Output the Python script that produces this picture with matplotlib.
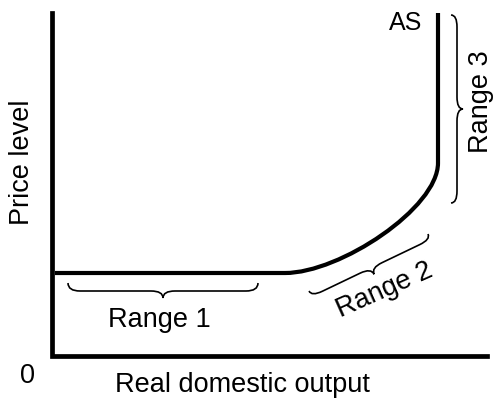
import matplotlib.pyplot as plt
from matplotlib.path import Path
from matplotlib.patches import PathPatch
import numpy as np

plt.rcParams['font.family'] = ['Liberation Sans', 'DejaVu Sans']

# diagram laid out in pixel units (y grows downward)
axis_x = [52, 52, 487]
axis_y = [13, 356, 356]

# AS curve: flat start, kink, two bezier handles, end of bend, top
as_x = [55, 285, 340, 438, 438, 438]
as_y = [273, 273, 273, 208, 163, 13]

# braces: start point, end point (normal is on the left of start->end)
brace_start = [(68, 283), (309, 291), (451, 203)]
brace_end = [(258, 283), (428, 234), (451, 15)]
brace_depth = [(8, 7), (6, 7), (6, 6)]

labels = ["Range 1", "Range 2", "Range 3"]
label_pos = [(159, 327), (385, 290), (481, 102)]
label_rot = [0, 24, 90]

fig = plt.figure(figsize=(5.01, 4.04), dpi=100)
ax = fig.add_axes([0, 0, 1, 1])
ax.set_xlim(0, 501)
ax.set_ylim(404, 0)
ax.axis('off')

# axes
ax.plot(axis_x, axis_y, color='black', lw=3.4, solid_joinstyle='miter')

# AS curve
codes = [Path.MOVETO, Path.LINETO, Path.CURVE4, Path.CURVE4, Path.CURVE4, Path.LINETO]
ax.add_patch(PathPatch(Path(list(zip(as_x, as_y)), codes),
                       fc='none', ec='black', lw=3.0))


def brace(p0, p1, h1, h2, r=12):
    p0 = np.array(p0, float)
    p1 = np.array(p1, float)
    L = np.linalg.norm(p1 - p0)
    d = (p1 - p0) / L
    n = np.array([-d[1], d[0]])
    m = L / 2
    local = [(0, 0), (0, h1), (r, h1), (m - r, h1), (m, h1), (m, h1 + h2),
             (m, h1), (m + r, h1), (L - r, h1), (L, h1), (L, 0)]
    verts = [p0 + u * d + v * n for u, v in local]
    c = [Path.MOVETO, Path.CURVE3, Path.CURVE3, Path.LINETO, Path.CURVE3, Path.CURVE3,
         Path.CURVE3, Path.CURVE3, Path.LINETO, Path.CURVE3, Path.CURVE3]
    ax.add_patch(PathPatch(Path(verts, c), fc='none', ec='black', lw=1.2))


for s, e, (h1, h2) in zip(brace_start, brace_end, brace_depth):
    brace(s, e, h1, h2)

fs = 19.5
ax.text(label_pos[0][0], label_pos[0][1], labels[0], fontsize=fs, ha='center', va='baseline')
ax.text(label_pos[1][0], label_pos[1][1], labels[1], fontsize=fs, ha='center', va='center',
        rotation=label_rot[1], rotation_mode='anchor')
ax.text(label_pos[2][0], label_pos[2][1], labels[2], fontsize=fs, ha='center', va='center',
        rotation=label_rot[2])

ax.text(406, 30, "AS", fontsize=18, ha='center', va='baseline')
ax.text(22, 162, "Price level", fontsize=fs, ha='center', va='center', rotation=90)
ax.text(27.5, 376, "0", fontsize=fs, ha='center', va='center')
ax.text(242, 392, "Real domestic output", fontsize=fs, ha='center', va='baseline')

fig.savefig('out.png', dpi=100, facecolor='white')
